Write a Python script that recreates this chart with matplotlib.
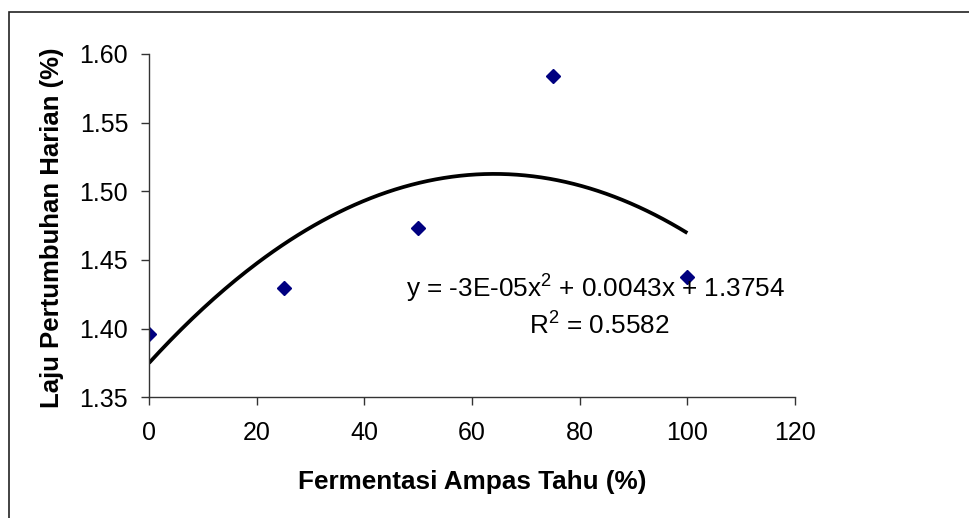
import numpy as np
import matplotlib
matplotlib.use("Agg")
import matplotlib.pyplot as plt
from matplotlib.patches import Rectangle

plt.rcParams['font.family'] = ['Liberation Sans', 'DejaVu Sans']
plt.rcParams['mathtext.fontset'] = 'custom'
plt.rcParams['mathtext.rm'] = 'Liberation Sans'
plt.rcParams['mathtext.it'] = 'Liberation Sans'
plt.rcParams['mathtext.default'] = 'regular'

# data
fermentasi = [0, 25, 50, 75, 100]
laju = [1.3963, 1.4296, 1.4733, 1.5841, 1.4374]
x_ticks = [0, 20, 40, 60, 80, 100, 120]
y_ticks = [1.35, 1.40, 1.45, 1.50, 1.55, 1.60]
persamaan = "y = -3E-05x$^{2}$ + 0.0043x + 1.3754"
r_kuadrat = "R$^{2}$ = 0.5582"

fig = plt.figure(figsize=(9.7, 5.18), dpi=100)
ax = fig.add_axes([149/970, 1 - 397.3/518, (795 - 149)/970, (397.3 - 54)/518])

# polynomial trendline (order 2), like Excel
coef = np.polyfit(fermentasi, laju, 2)
xs = np.linspace(0, 100, 200)
ax.plot(xs, np.polyval(coef, xs), color='black', lw=2.7, solid_capstyle='butt')
ax.plot(fermentasi, laju, linestyle='none', marker='D', ms=7, color='#000080')

ax.set_xlim(0, 120)
ax.set_ylim(1.35, 1.60)
ax.set_xticks(x_ticks)
ax.set_yticks(y_ticks)
ax.set_yticklabels([f"{v:.2f}" for v in y_ticks])
for s in ['top', 'right']:
    ax.spines[s].set_visible(False)
for s in ['left', 'bottom']:
    ax.spines[s].set_color('#333333')
    ax.spines[s].set_linewidth(1.0)
    ax.spines[s].set_clip_on(False)
ax.tick_params(direction='out', length=6, width=1.0, color='#333333', labelsize=18)
ax.tick_params(axis='y', pad=9)
ax.tick_params(axis='x', pad=11)

ax.text(83.0, 1.4288, persamaan, ha='center', va='center', fontsize=18.8)
ax.text(83.6, 1.4019, r_kuadrat, ha='center', va='center', fontsize=18.8)

fig.text(52/970, 1 - 228/518, "Laju Pertumbuhan Harian (%)", rotation=90,
         ha='center', va='center', fontsize=18.5, fontweight='bold')
fig.text(472/970, 1 - 482/518, "Fermentasi Ampas Tahu (%)",
         ha='center', va='center', fontsize=18.8, fontweight='bold')

# outer chart frame (only left/top edges visible in the crop)
fig.patches.append(Rectangle((9/970, -0.2), 1.5, 1.2 - 12/518, transform=fig.transFigure,
                             fill=False, ec='#222222', lw=1.2))

fig.savefig("out.png", dpi=100)
